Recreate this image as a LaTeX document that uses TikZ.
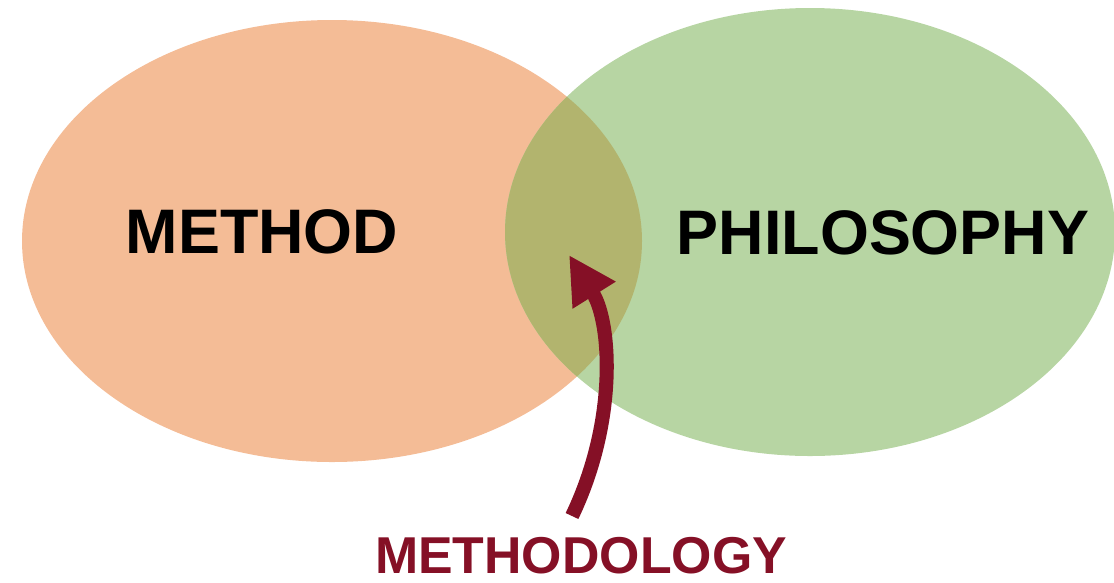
\documentclass[tikz,border=0pt]{standalone}
\usepackage{fontspec}
\setmainfont{Liberation Sans}
\usetikzlibrary{arrows.meta}
\definecolor{methodfill}{HTML}{F4BC96}
\definecolor{philofill}{HTML}{B7D5A3}
\definecolor{bothfill}{HTML}{B2B46E}
\definecolor{darkred}{HTML}{851026}
\tikzset{
  bigword/.style={font=\fontsize{35.8}{40}\selectfont\bfseries,inner sep=0pt,anchor=base},
  redword/.style={font=\fontsize{29.5}{34}\selectfont\bfseries,text=darkred,inner sep=0pt,anchor=base},
}
\begin{document}
\begin{tikzpicture}[x=0.02cm,y=-0.02cm,line join=round,line cap=round]
			\useasboundingbox (0,0) rectangle (1114,582);
			\fill[methodfill] (332,241) ellipse [x radius=310,y radius=221];
			\fill[philofill] (810,232) ellipse [x radius=305,y radius=224];
			\begin{scope}
				\clip (332,241) ellipse [x radius=310,y radius=221];
				\fill[bothfill] (810,232) ellipse [x radius=305,y radius=224];
			\end{scope}
			\node[bigword] (method) at (262,253) {METHOD};
			\node[bigword] (philosophy) at (883,254) {PHILOSOPHY};
			\node[redword] (methodology) at (581,573) {METHODOLOGY};
			\coordinate (tail) at (572,516);
			\coordinate (tip) at (569,255);
			\draw[darkred,line width=8pt,line cap=butt,-{Triangle[length=27pt,width=27pt]}]
				(tail) .. controls (618,420) and (611,322) .. (tip);
		\end{tikzpicture}
\end{document}
